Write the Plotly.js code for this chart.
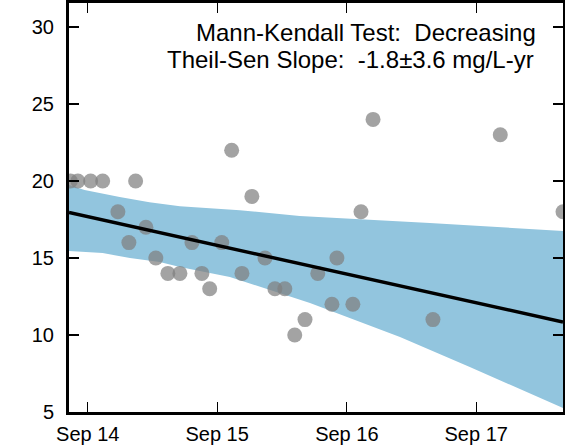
<!DOCTYPE html>
<html>
<head>
<meta charset="utf-8">
<script src="https://cdn.plot.ly/plotly-3.0.1.min.js"></script>
<style>html,body{margin:0;padding:0;background:#fff;}#chart{width:565px;height:448px;}</style>
</head>
<body>
<div id="chart"></div>
<script>
// Observations
const obsDates = ["2014-07-14","2014-08-04","2014-09-09","2014-10-13","2014-11-25","2014-12-26","2015-01-14","2015-02-12","2015-03-12","2015-04-15","2015-05-19","2015-06-22","2015-07-20","2015-08-11","2015-09-14","2015-10-12","2015-11-10","2015-12-08","2016-01-14","2016-02-11","2016-03-10","2016-04-07","2016-05-06","2016-06-11","2016-07-21","2016-08-04","2016-09-18","2016-10-11","2016-11-14","2017-05-02","2017-11-08","2018-05-04"];
const obsValues = [20,20,20,20,18,16,20,17,15,14,14,16,14,13,16,22,14,19,15,13,13,10,11,14,12,15,12,18,24,11,23,18];

// Confidence band
const upperDates = ["2014-07-10","2014-08-23","2014-11-30","2015-02-22","2015-05-19","2015-11-04","2016-04-21","2017-04-23","2018-05-04"];
const upperValues = [19.74,19.42,18.96,18.62,18.36,18.10,17.73,17.27,16.75];
const lowerDates = ["2014-07-10","2014-10-13","2014-12-29","2015-03-23","2015-05-19","2015-10-07","2016-01-28","2016-05-20","2017-01-29","2017-08-14","2018-05-04"];
const lowerValues = [15.45,15.32,15.0,14.74,14.42,13.77,12.92,12.08,9.87,7.92,5.26];

// Theil-Sen trend line
const trendDates = ["2014-07-10","2018-05-04"];
const trendValues = [17.95,10.85];

// Axis ticks
const xTickVals = ["2014-09-01","2015-09-01","2016-09-01","2017-09-01"];
const xTickText = ["Sep 14","Sep 15","Sep 16","Sep 17"];
const yTickVals = [5,10,15,20,25,30];

const bandX = upperDates.concat(lowerDates.slice().reverse());
const bandY = upperValues.concat(lowerValues.slice().reverse());

const tickFont = {family: "Liberation Sans, Arial, sans-serif", size: 20, color: "#000"};
const annFont = {family: "Liberation Sans, Arial, sans-serif", size: 24, color: "#000"};

const traces = [
  {x: bandX, y: bandY, type: "scatter", mode: "lines", fill: "toself",
   fillcolor: "#92c5de", line: {width: 0, color: "#92c5de"}, hoverinfo: "skip"},
  {x: obsDates, y: obsValues, type: "scatter", mode: "markers",
   marker: {size: 15, color: "rgb(128,128,128)", opacity: 0.72, line: {width: 0}}},
  {x: trendDates, y: trendValues, type: "scatter", mode: "lines",
   line: {color: "#000", width: 3.5}}
];

const layout = {
  width: 565, height: 448,
  margin: {l: 69, r: 2, t: 3, b: 36, pad: 0},
  paper_bgcolor: "#fff", plot_bgcolor: "#fff",
  showlegend: false,
  font: tickFont,
  xaxis: {type: "date", range: ["2014-07-10","2018-05-04"],
    tickvals: xTickVals, ticktext: xTickText,
    ticks: "inside", ticklen: 10, tickwidth: 1.2, tickcolor: "#000",
    showline: true, linecolor: "#000", linewidth: 3, mirror: "ticks",
    showgrid: false, zeroline: false, tickfont: tickFont, ticklabelstandoff: 2},
  yaxis: {range: [5, 31.56], tickvals: yTickVals,
    ticks: "inside", ticklen: 10, tickwidth: 1.2, tickcolor: "#000",
    showline: true, linecolor: "#000", linewidth: 3, mirror: "ticks",
    showgrid: false, zeroline: false, tickfont: tickFont, ticklabelstandoff: 8},
  annotations: [
    {xref: "paper", yref: "paper", x: 0.949, y: 0.9286, xanchor: "right", yanchor: "middle",
     showarrow: false, text: "Mann-Kendall Test:\u00a0\u00a0Decreasing", font: annFont},
    {xref: "paper", yref: "paper", x: 0.946, y: 0.8614, xanchor: "right", yanchor: "middle",
     showarrow: false, text: "Theil-Sen Slope:\u00a0\u00a0-1.8\u00b13.6 mg/L-yr", font: annFont}
  ]
};

Plotly.newPlot("chart", traces, layout, {staticPlot: true, displayModeBar: false});
</script>
</body>
</html>
